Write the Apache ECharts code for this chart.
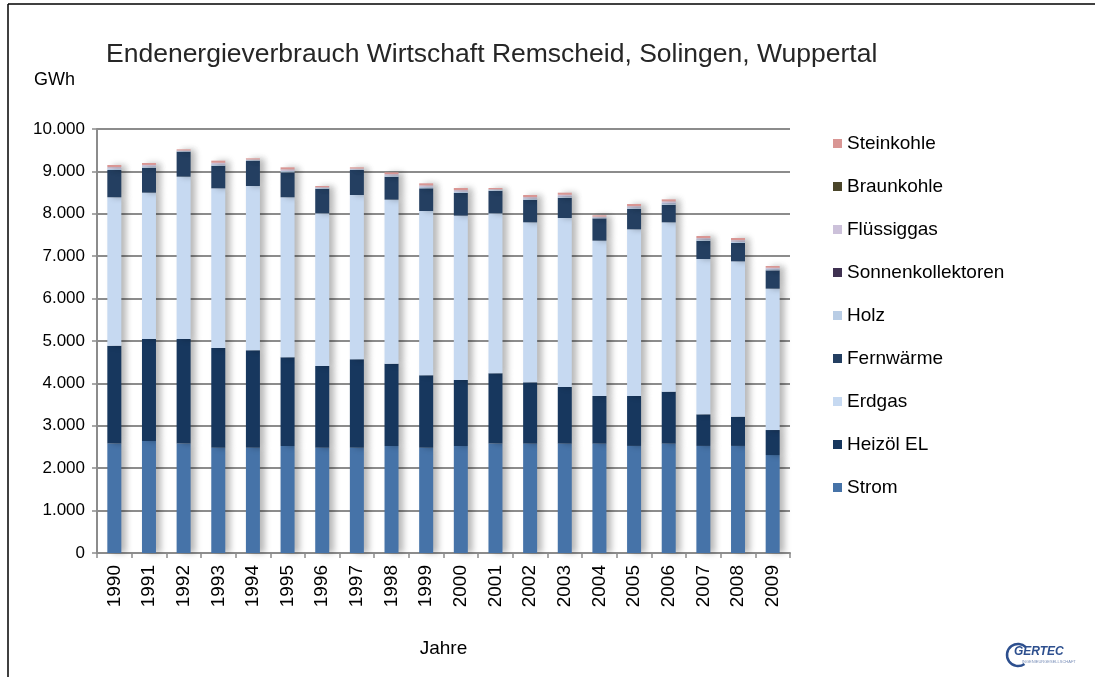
<!DOCTYPE html>
<html>
<head>
<meta charset="utf-8">
<script src="https://cdn.jsdelivr.net/npm/echarts@6/dist/echarts.min.js"></script>
<style>
  html, body { margin: 0; padding: 0; background: #fff; }
  #chart { width: 1095px; height: 677px; }
</style>
</head>
<body>
<div id="chart"></div>
<script>
// Jahre
var years = ['1990','1991','1992','1993','1994','1995','1996','1997','1998','1999',
             '2000','2001','2002','2003','2004','2005','2006','2007','2008','2009'];

// GWh je Energieträger (von unten nach oben gestapelt)
var strom      = [2580,2640,2580,2485,2485,2525,2485,2485,2525,2485,2525,2580,2580,2580,2580,2525,2580,2525,2525,2310];
var heizoel    = [2310,2407,2467,2350,2295,2090,1925,2083,1940,1705,1555,1658,1445,1335,1123,1178,1225,745,690,590];
var erdgas     = [3500,3451,3828,3766,3876,3775,3601,3875,3868,3876,3876,3773,3774,3986,3663,3931,3994,3664,3664,3334];
var fernwaerme = [643,590,590,534,597,588,582,590,542,535,535,534,534,479,527,486,416,432,432,433];
var holz       = [30,30,14,30,14,30,16,16,28,30,30,16,28,30,20,28,36,28,32,28];
var sonnen     = [3,3,3,3,3,3,3,3,4,4,4,4,4,5,5,5,5,6,6,6];
var fluessig   = [35,30,11,35,11,35,14,14,27,34,33,13,28,33,16,28,35,26,30,26];
var braun      = [2,2,2,2,2,2,2,2,2,2,2,2,2,2,2,2,2,2,2,2];
var stein      = [48,45,25,48,25,48,28,28,42,48,48,28,48,48,28,48,48,48,48,40];

var names  = ['Strom','Heizöl EL','Erdgas','Fernwärme','Holz','Sonnenkollektoren','Flüssiggas','Braunkohle','Steinkohle'];
var values = [strom, heizoel, erdgas, fernwaerme, holz, sonnen, fluessig, braun, stein];
var colors = ['#4673a8','#17375e','#c6d9f1','#243f61','#b9cde5','#3f3151','#ccc1da','#4a452a','#d99694'];

var series = names.map(function (n, i) {
    return {
        name: n,
        type: 'bar',
        stack: 'total',
        barWidth: 14,
        data: values[i],
        itemStyle: {
            color: colors[i],
            shadowColor: 'rgba(0,0,0,0.28)',
            shadowBlur: 6,
            shadowOffsetX: 5
        }
    };
});

var chart = echarts.init(document.getElementById('chart'));
chart.setOption({
    backgroundColor: '#fff',
    animation: false,
    textStyle: { fontFamily: 'Liberation Sans, Arial, sans-serif' },
    title: {
        text: 'Endenergieverbrauch Wirtschaft Remscheid, Solingen, Wuppertal',
        left: 101,
        top: 36,
        textStyle: { fontSize: 26.5, fontWeight: 'normal', color: '#262626' }
    },
    legend: {
        data: names.slice().reverse(),
        orient: 'vertical',
        left: 828,
        top: 129,
        icon: 'rect',
        itemWidth: 9,
        itemHeight: 9,
        itemGap: 24,
        itemStyle: { shadowBlur: 0, shadowOffsetX: 0 },
        textStyle: { fontSize: 19, color: '#000' }
    },
    grid: { left: 97, right: 305, top: 129, bottom: 124 },
    xAxis: {
        type: 'category',
        data: years,
        name: 'Jahre',
        nameLocation: 'middle',
        nameGap: 86,
        nameTextStyle: { fontSize: 19, color: '#000' },
        axisLine: { lineStyle: { color: '#8c8c8c', width: 2 } },
        axisTick: { show: true, length: 5, lineStyle: { color: '#8c8c8c', width: 1.5 } },
        axisLabel: { rotate: 90, fontSize: 19, color: '#000', margin: 12 }
    },
    yAxis: {
        type: 'value',
        min: 0,
        max: 10000,
        interval: 1000,
        name: 'GWh',
        nameLocation: 'end',
        nameGap: 40,
        nameTextStyle: { fontSize: 18, color: '#000', align: 'right', padding: [0, 22, 0, 0] },
        axisLine: { show: true, lineStyle: { color: '#8c8c8c', width: 2 } },
        axisTick: { show: true, length: 5, lineStyle: { color: '#8c8c8c', width: 1.5 } },
        splitLine: { lineStyle: { color: '#8c8c8c', width: 2 } },
        axisLabel: {
            fontSize: 17,
            color: '#000',
            margin: 12,
            formatter: function (v) {
                return String(v).replace(/\B(?=(\d{3})+(?!\d))/g, '.');
            }
        }
    },
    graphic: [
        { type: 'line', shape: { x1: 8, y1: 4, x2: 1095, y2: 4 }, style: { stroke: '#000', lineWidth: 1.5 } },
        { type: 'line', shape: { x1: 8, y1: 4, x2: 8, y2: 677 }, style: { stroke: '#000', lineWidth: 1.5 } },
        {
            type: 'arc',
            shape: { cx: 1018, cy: 655, r: 11, startAngle: Math.PI * 0.3, endAngle: Math.PI * 1.75 },
            style: { stroke: '#2d4f8e', lineWidth: 2.5, fill: null }
        },
        {
            type: 'text',
            left: 1014,
            top: 646,
            style: { text: 'GERTEC', fontSize: 12, fontStyle: 'italic', fontWeight: 'bold', fill: '#2d4f8e' }
        },
        {
            type: 'text',
            left: 1022,
            top: 660,
            style: { text: 'INGENIEURGESELLSCHAFT', fontSize: 4, fill: '#7a8fb8' }
        }
    ],
    series: series
});
</script>
</body>
</html>
